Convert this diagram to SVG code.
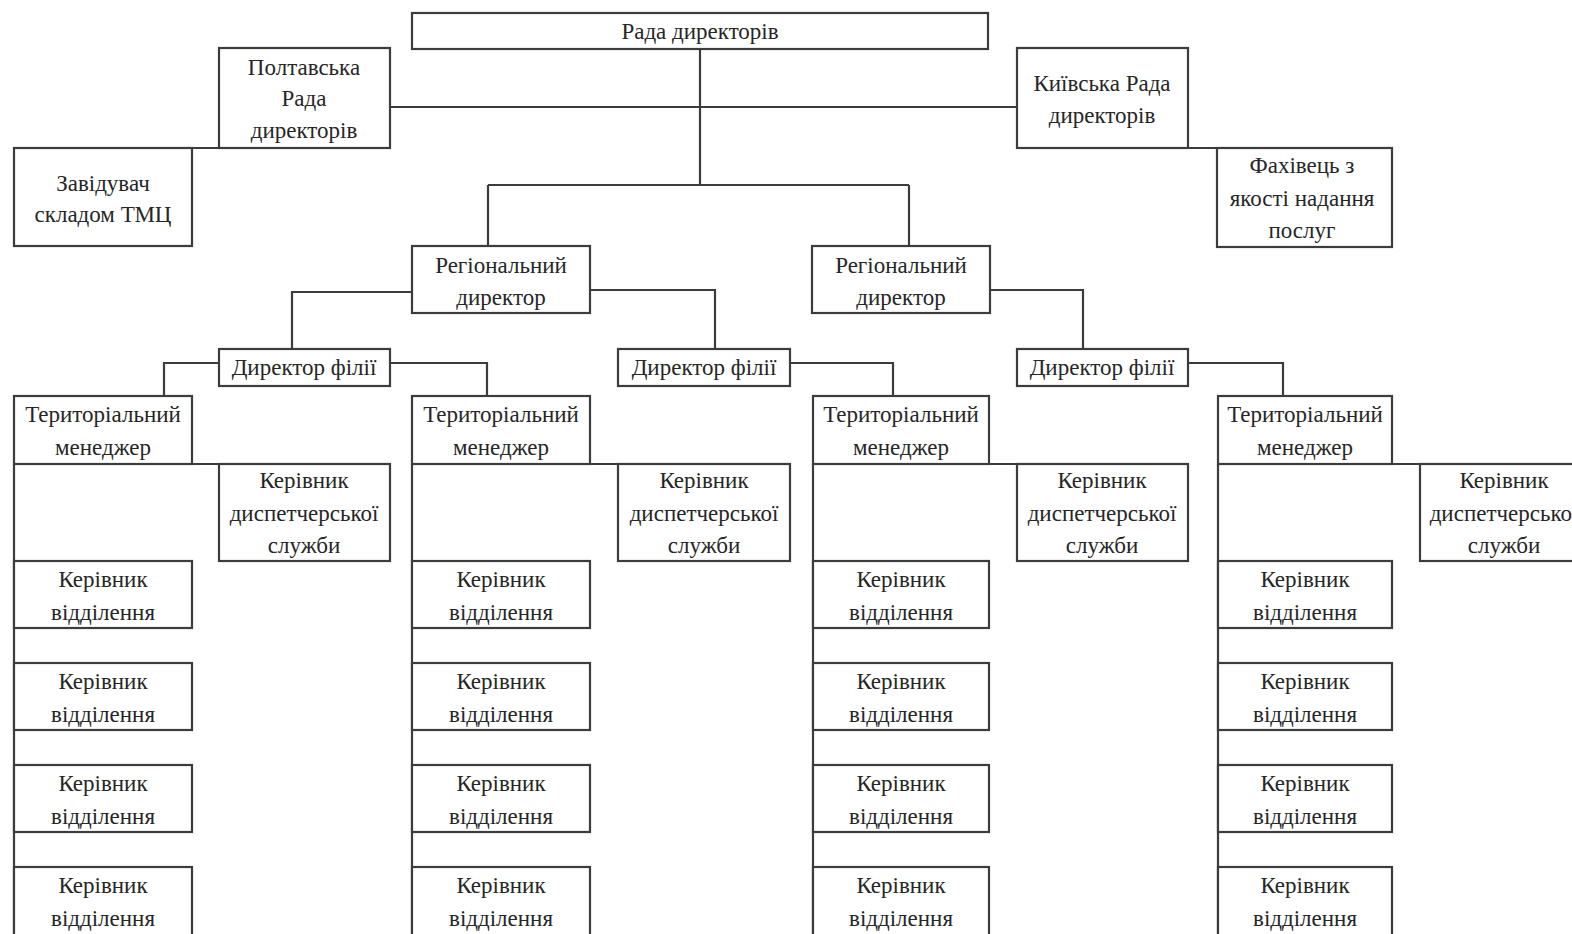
<svg xmlns="http://www.w3.org/2000/svg" width="1572" height="934" viewBox="0 0 1572 934">
<style>
.b{fill:#fff;stroke:#3c3c3c;stroke-width:2.2}
.c{fill:none;stroke:#3c3c3c;stroke-width:2.2}
.t{font-family:"Liberation Serif","Times New Roman",serif;font-size:23px;fill:#262626;text-anchor:middle}
</style>
<rect width="1572" height="934" fill="#fff"/>
<g id="connectors">
<path class="c" d="M700 49V185M390 107H1017M488 185H909M488 185V246M909 185V246"/>
<path class="c" d="M192 148H219M1188 148H1217"/>
<path class="c" d="M412 292H292V349M590 290H715V349M990 290H1083V349"/>
<path class="c" d="M219 363H164V396M390 363H487V396M790 363H893V396M1188 363H1283V396"/>
<path class="c" d="M192 464H219M590 464H618M989 464H1017M1392 464H1420"/>
<path class="c" d="M14 464V934M412 464V934M813 464V934M1218 464V934"/>
</g>
<g id="n-rada"><rect class="b" x="412" y="13" width="576" height="36"/><text class="t" x="700" y="39">Рада директорів</text></g>
<g id="n-poltava"><rect class="b" x="219" y="48" width="171" height="100"/><text class="t" x="304" y="75">Полтавська</text><text class="t" x="304" y="106">Рада</text><text class="t" x="304" y="138">директорів</text></g>
<g id="n-zaviduvach"><rect class="b" x="14" y="148" width="178" height="98"/><text class="t" x="103" y="191">Завідувач</text><text class="t" x="103" y="222">складом ТМЦ</text></g>
<g id="n-kyiv"><rect class="b" x="1017" y="48" width="171" height="100"/><text class="t" x="1102" y="91">Київська Рада</text><text class="t" x="1102" y="123">директорів</text></g>
<g id="n-fakhivets"><rect class="b" x="1217" y="148" width="175" height="99"/><text class="t" x="1302" y="173">Фахівець з</text><text class="t" x="1302" y="206">якості надання</text><text class="t" x="1302" y="238">послуг</text></g>
<g id="n-reg1"><rect class="b" x="412" y="246" width="178" height="67"/><text class="t" x="501" y="273">Регіональний</text><text class="t" x="501" y="305">директор</text></g>
<g id="n-reg2"><rect class="b" x="812" y="246" width="178" height="67"/><text class="t" x="901" y="273">Регіональний</text><text class="t" x="901" y="305">директор</text></g>
<g id="n-df1"><rect class="b" x="219" y="349" width="171" height="37"/><text class="t" x="304" y="375">Директор філії</text></g>
<g id="n-df2"><rect class="b" x="618" y="349" width="172" height="37"/><text class="t" x="704" y="375">Директор філії</text></g>
<g id="n-df3"><rect class="b" x="1017" y="349" width="171" height="37"/><text class="t" x="1102" y="375">Директор філії</text></g>
<g id="n-ter1"><rect class="b" x="14" y="396" width="178" height="68"/><text class="t" x="103" y="422">Територіальний</text><text class="t" x="103" y="455">менеджер</text></g>
<g id="n-ter2"><rect class="b" x="412" y="396" width="178" height="68"/><text class="t" x="501" y="422">Територіальний</text><text class="t" x="501" y="455">менеджер</text></g>
<g id="n-ter3"><rect class="b" x="813" y="396" width="176" height="68"/><text class="t" x="901" y="422">Територіальний</text><text class="t" x="901" y="455">менеджер</text></g>
<g id="n-ter4"><rect class="b" x="1218" y="396" width="174" height="68"/><text class="t" x="1305" y="422">Територіальний</text><text class="t" x="1305" y="455">менеджер</text></g>
<g id="n-disp1"><rect class="b" x="219" y="464" width="171" height="97"/><text class="t" x="304" y="488">Керівник</text><text class="t" x="304" y="521">диспетчерської</text><text class="t" x="304" y="553">служби</text></g>
<g id="n-disp2"><rect class="b" x="618" y="464" width="172" height="97"/><text class="t" x="704" y="488">Керівник</text><text class="t" x="704" y="521">диспетчерської</text><text class="t" x="704" y="553">служби</text></g>
<g id="n-disp3"><rect class="b" x="1017" y="464" width="171" height="97"/><text class="t" x="1102" y="488">Керівник</text><text class="t" x="1102" y="521">диспетчерської</text><text class="t" x="1102" y="553">служби</text></g>
<g id="n-disp4"><rect class="b" x="1420" y="464" width="172" height="97"/><text class="t" x="1504" y="488">Керівник</text><text class="t" x="1504" y="521">диспетчерської</text><text class="t" x="1504" y="553">служби</text></g>
<g id="n-vid1-1"><rect class="b" x="14" y="561" width="178" height="67"/><text class="t" x="103" y="587">Керівник</text><text class="t" x="103" y="620">відділення</text></g>
<g id="n-vid1-2"><rect class="b" x="14" y="663" width="178" height="67"/><text class="t" x="103" y="689">Керівник</text><text class="t" x="103" y="722">відділення</text></g>
<g id="n-vid1-3"><rect class="b" x="14" y="765" width="178" height="67"/><text class="t" x="103" y="791">Керівник</text><text class="t" x="103" y="824">відділення</text></g>
<g id="n-vid1-4"><rect class="b" x="14" y="867" width="178" height="80"/><text class="t" x="103" y="893">Керівник</text><text class="t" x="103" y="926">відділення</text></g>
<g id="n-vid2-1"><rect class="b" x="412" y="561" width="178" height="67"/><text class="t" x="501" y="587">Керівник</text><text class="t" x="501" y="620">відділення</text></g>
<g id="n-vid2-2"><rect class="b" x="412" y="663" width="178" height="67"/><text class="t" x="501" y="689">Керівник</text><text class="t" x="501" y="722">відділення</text></g>
<g id="n-vid2-3"><rect class="b" x="412" y="765" width="178" height="67"/><text class="t" x="501" y="791">Керівник</text><text class="t" x="501" y="824">відділення</text></g>
<g id="n-vid2-4"><rect class="b" x="412" y="867" width="178" height="80"/><text class="t" x="501" y="893">Керівник</text><text class="t" x="501" y="926">відділення</text></g>
<g id="n-vid3-1"><rect class="b" x="813" y="561" width="176" height="67"/><text class="t" x="901" y="587">Керівник</text><text class="t" x="901" y="620">відділення</text></g>
<g id="n-vid3-2"><rect class="b" x="813" y="663" width="176" height="67"/><text class="t" x="901" y="689">Керівник</text><text class="t" x="901" y="722">відділення</text></g>
<g id="n-vid3-3"><rect class="b" x="813" y="765" width="176" height="67"/><text class="t" x="901" y="791">Керівник</text><text class="t" x="901" y="824">відділення</text></g>
<g id="n-vid3-4"><rect class="b" x="813" y="867" width="176" height="80"/><text class="t" x="901" y="893">Керівник</text><text class="t" x="901" y="926">відділення</text></g>
<g id="n-vid4-1"><rect class="b" x="1218" y="561" width="174" height="67"/><text class="t" x="1305" y="587">Керівник</text><text class="t" x="1305" y="620">відділення</text></g>
<g id="n-vid4-2"><rect class="b" x="1218" y="663" width="174" height="67"/><text class="t" x="1305" y="689">Керівник</text><text class="t" x="1305" y="722">відділення</text></g>
<g id="n-vid4-3"><rect class="b" x="1218" y="765" width="174" height="67"/><text class="t" x="1305" y="791">Керівник</text><text class="t" x="1305" y="824">відділення</text></g>
<g id="n-vid4-4"><rect class="b" x="1218" y="867" width="174" height="80"/><text class="t" x="1305" y="893">Керівник</text><text class="t" x="1305" y="926">відділення</text></g>
</svg>
